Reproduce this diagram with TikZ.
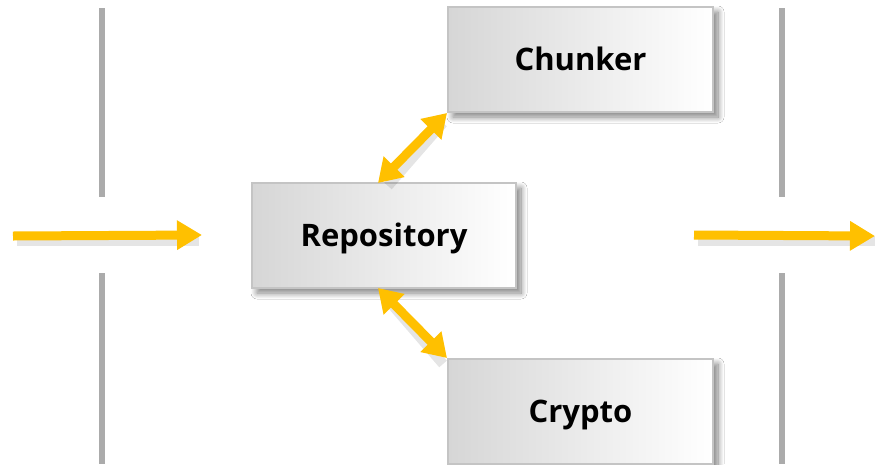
\documentclass[tikz,border=0pt]{standalone}
\usepackage{fontspec}
\setmainfont{Open Sans}
\usetikzlibrary{arrows.meta,shadows.blur,calc}
\definecolor{arrowgold}{HTML}{FFC000}
\definecolor{sepgray}{HTML}{ABABAB}
\definecolor{boxborder}{HTML}{C4C4C4}
\definecolor{boxleft}{HTML}{D6D6D6}
\tikzset{
  compbox/.style={rectangle, draw=boxborder, line width=2pt, left color=boxleft, right color=white,
    minimum width=264pt, minimum height=105pt, inner sep=0pt, text height=22pt, text depth=0pt,
    font=\fontsize{31}{37}\selectfont\bfseries, text=black,
    blur shadow={shadow xshift=5pt, shadow yshift=-5pt, shadow blur radius=6pt, shadow blur steps=12, shadow opacity=50}},
  flow/.style={draw=arrowgold, line width=9pt, -{Triangle[length=25pt,width=28pt]}},
  dflow/.style={draw=arrowgold, line width=9pt, {Triangle[length=23pt,width=28pt]}-{Triangle[length=23pt,width=28pt]}},
  flowshadow/.style={draw=black, opacity=0.10, line width=10pt},
  sep/.style={draw=sepgray, line width=6pt}
}
\begin{document}
\begin{tikzpicture}[x=1pt,y=-1pt]
\useasboundingbox (0,0) rectangle (875,464);
\fill[white] (0,0) rectangle (875,464);
% separators
\draw[sep] (102,8) -- (102,197);
\draw[sep] (102,273) -- (102,464);
\draw[sep] (782,8) -- (782,197);
\draw[sep] (782,273) -- (782,464);
% boxes
\node[compbox] (repo) at (384,235.5) {Repository};
\node[compbox, minimum width=265pt] (chunk) at (580.5,59.5) {Chunker};
\node[compbox, minimum width=265pt] (crypto) at (580.5,411.5) {Crypto};
% free ends
\coordinate (inL) at (13,236);
\coordinate (outR) at (875,236);
% arrow shadows
\draw[flowshadow] ($(inL)+(4,5)$) -- ($(repo.west)+(-52,5.5)$);
\draw[flowshadow] ($(repo.east)+(181,5.5)$) -- ($(outR)+(0,5)$);
\draw[flowshadow] ($(repo.north west)+(137,4)$) -- ($(chunk.south west)+(-4,10)$);
\draw[flowshadow] ($(repo.south west)+(136,10)$) -- ($(crypto.north west)+(-4,6)$);
% arrows
\draw[flow] (inL) -- ([xshift=-49pt,yshift=0.5pt]repo.west);
\draw[flow] ([xshift=177pt,yshift=0.5pt]repo.east) -- (outR);
\draw[dflow] ([xshift=127pt,yshift=-1pt]repo.north west) -- (chunk.south west);
\draw[dflow] ([xshift=127pt,yshift=1pt]repo.south west) -- (crypto.north west);
\end{tikzpicture}
\end{document}
